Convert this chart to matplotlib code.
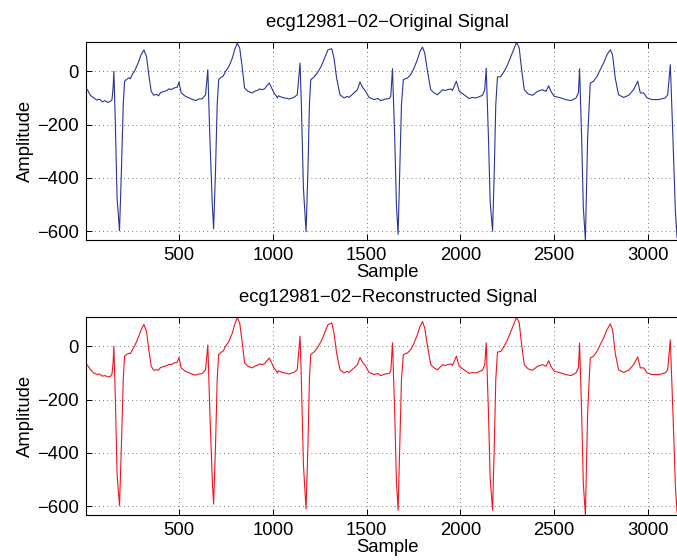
"""ECG 원신호 / 복원신호 비교 (ecg12981-02)."""
import matplotlib
matplotlib.use("Agg")
import matplotlib.pyplot as plt

# 샘플 위치 (그림에서 읽은 꼭짓점)
sample = [
    1, 10, 27, 45, 62, 75, 90, 105, 120, 135, 142, 148, 152, 160, 169, 182, 191,
    202, 209, 219, 232, 240, 250, 266, 285, 297, 312, 326, 338, 351, 365, 378,
    390, 400, 418, 435, 445, 460, 475, 490, 499, 511, 534,
    553, 570, 588, 605, 623, 641, 653, 664, 677, 684, 694, 703, 711, 725, 735,
    748, 766, 784, 796, 810, 823, 837, 849, 867, 890, 905, 917, 930, 943, 957,
    967, 981, 993, 1006, 1018, 1024, 1030, 1050, 1077,
    1086, 1112, 1130, 1145, 1152, 1163, 1177, 1187, 1195, 1202, 1219, 1237,
    1258, 1276, 1294, 1314, 1326, 1340, 1358, 1380, 1395, 1406, 1433, 1451,
    1465, 1478, 1495, 1513, 1540, 1560, 1575, 1600,
    1620, 1629, 1638, 1650, 1659, 1668, 1677, 1686, 1696, 1718, 1736, 1753,
    1771, 1785, 1798, 1810, 1825, 1842, 1860, 1878, 1905, 1920, 1931, 1950,
    1958, 1979, 1994, 2020, 2047, 2065, 2083, 2118, 2130, 2138,
    2150, 2159, 2172, 2181, 2189, 2198, 2216, 2234, 2252, 2270, 2284, 2300,
    2314, 2326, 2341, 2362, 2385, 2412, 2438, 2457, 2471, 2483, 2501, 2527,
    2563, 2590, 2617, 2630, 2636,
    2647, 2656, 2667, 2679, 2693, 2711, 2729, 2746, 2764, 2782, 2800, 2812,
    2826, 2844, 2871, 2898, 2924, 2946, 2960, 2978, 2996, 3022, 3058, 3093,
    3106, 3120, 3134, 3147, 3156, 3168, 3180, 3190, 3205, 3225,
]

orig_amp = [
    -72, -68, -90, -100, -108, -104, -114, -110, -117, -112, -106, -60, 0, -200,
    -475, -598, -400, -125, -37, -31, -24, -28, -12, 6, 38, 62, 80, 56, -12,
    -75, -90, -86, -92, -80, -76, -72, -66, -68, -62, -60, -40, -81, -94,
    -100, -105, -110, -104, -103, -88, 6, -250, -500, -591, -375, -125, -31,
    -22, -18, 0, 19, 50, 81, 106, 88, 12, -62, -75, -81, -74, -72, -66, -69,
    -65, -55, -44, -62, -81, -92, -100, -92, -98, -102,
    -104, -98, -88, 31, -125, -438, -602, -375, -125, -31, -22, -6, 19, 50,
    81, 85, 50, -25, -88, -100, -94, -98, -81, -69, -40, -60, -75, -98, -106,
    -102, -110, -104,
    -102, -94, 10, -250, -500, -612, -375, -125, -31, -25, -12, 12, 44, 75,
    91, 69, 0, -69, -81, -88, -69, -72, -69, -66, -72, -37, -75, -88, -102,
    -98, -100, -90, -70, 12,
    -250, -488, -600, -375, -125, -22, -19, 0, 25, 56, 81, 109, 88, 12, -69,
    -85, -90, -75, -69, -75, -54, -75, -94, -98, -106, -110, -100, -80, 10,
    -250, -512, -633, -250, -44, -37, -19, 6, 31, 62, 81, 62, -25, -88, -98,
    -90, -69, -37, -81, -81, -100, -106, -106, -100, -88, 25, -250, -525,
    -625, -380, -120, -40, -30, -15,
]

recon_amp = [
    -72, -70, -88, -100, -106, -104, -112, -110, -115, -112, -104, -60, 0, -200,
    -480, -598, -400, -125, -37, -31, -26, -28, -14, 6, 38, 62, 82, 56, -12,
    -75, -90, -88, -90, -80, -76, -72, -68, -68, -62, -60, -42, -81, -94,
    -100, -105, -108, -104, -103, -88, 5, -250, -505, -592, -375, -125, -31,
    -22, -18, 0, 19, 50, 81, 108, 88, 12, -62, -75, -81, -74, -72, -66, -69,
    -65, -55, -44, -62, -81, -92, -100, -92, -98, -102,
    -104, -98, -88, 38, -125, -445, -610, -375, -125, -31, -22, -6, 19, 50,
    81, 88, 50, -25, -88, -100, -94, -98, -81, -69, -42, -60, -75, -98, -106,
    -102, -110, -104,
    -102, -94, 13, -250, -505, -615, -375, -125, -31, -25, -12, 12, 44, 75,
    93, 69, 0, -69, -81, -88, -69, -72, -69, -66, -72, -37, -75, -88, -102,
    -98, -100, -90, -70, 13,
    -250, -495, -615, -375, -125, -22, -19, 0, 25, 56, 81, 109, 88, 12, -69,
    -85, -90, -75, -69, -75, -54, -75, -94, -98, -106, -110, -100, -80, 12,
    -250, -515, -633, -250, -44, -37, -19, 6, 31, 62, 84, 62, -25, -88, -98,
    -90, -69, -40, -81, -81, -100, -106, -106, -100, -88, 24, -250, -525,
    -625, -380, -120, -40, -30, -15,
]

x_ticks = [500, 1000, 1500, 2000, 2500, 3000]
y_ticks = [-600, -400, -200, 0]

plt.rcParams["font.family"] = ["Liberation Sans", "DejaVu Sans"]
plt.rcParams["font.size"] = 13.3
plt.rcParams["axes.unicode_minus"] = True

fig = plt.figure(figsize=(6.77, 5.6), dpi=100)
ax_top = fig.add_axes([0.1264, 0.5714, 0.8928, 0.3531])
ax_bot = fig.add_axes([0.1264, 0.0804, 0.8928, 0.3531])

panels = [
    (ax_top, orig_amp, "#2a3596", "ecg12981\u221202\u2212Original Signal"),
    (ax_bot, recon_amp, "#f01520", "ecg12981\u221202\u2212Reconstructed Signal"),
]
for ax, amp, color, title in panels:
    ax.plot(sample, amp, color=color, linewidth=0.8)
    ax.set_xlim(1, 3225)
    ax.set_ylim(-633, 109)
    ax.set_xticks(x_ticks)
    ax.set_yticks(y_ticks)
    ax.tick_params(direction="in", length=4, width=0.7, top=True, right=True,
                   pad=5, colors="black")
    ax.grid(True, color="0.3", linestyle=(0, (1, 4)), linewidth=0.6)
    for sp in ax.spines.values():
        sp.set_linewidth(0.8)
    ax.set_title(title, fontsize=13.3, pad=11)
    ax.set_xlabel("Sample", labelpad=0)
    ax.set_ylabel("Amplitude", labelpad=2)

fig.savefig("out.png", dpi=100)
